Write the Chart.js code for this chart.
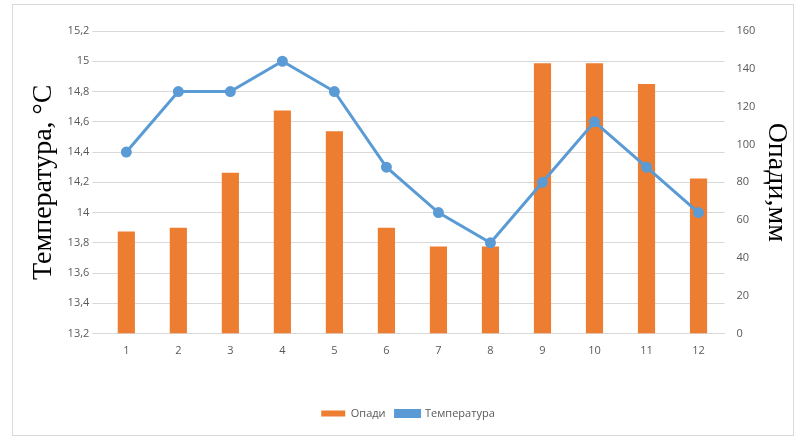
<!DOCTYPE html>
<html><head><meta charset="utf-8">
<script src="https://cdn.jsdelivr.net/npm/chart.js@4"></script>
<style>
body{margin:0;background:#fff}
#wrap{position:absolute;left:12px;top:4px;width:782px;height:432px;border:1px solid #d9d9d9;box-sizing:border-box}
</style></head><body>
<div id="wrap"><canvas id="c"></canvas></div>
<script>
const months = ['1','2','3','4','5','6','7','8','9','10','11','12'];
const precip = [54, 56, 85, 118, 107, 56, 46, 46, 143, 143, 132, 82];
const temp = [14.4, 14.8, 14.8, 15.0, 14.8, 14.3, 14.0, 13.8, 14.2, 14.6, 14.3, 14.0];

const tick = {color:'#595959', font:{family:'Open Sans', size:11}};
new Chart(document.getElementById('c'), {
  data: {labels: months, datasets: [
    {type:'line', label:'Температура', data:temp, yAxisID:'y', borderColor:'#5b9bd5', backgroundColor:'#5b9bd5',
     borderWidth:3, pointRadius:4, pointHoverRadius:4, order:0},
    {type:'bar', label:'Опади', data:precip, yAxisID:'y1', backgroundColor:'#ed7d31', barPercentage:0.33, categoryPercentage:1, order:1},
  ]},
  options: {
    responsive:true, maintainAspectRatio:false, animation:false,
    layout:{padding:{left:10, right:0, top:26, bottom:6}},
    plugins:{legend:{position:'bottom', reverse:true,
      labels:{color:'#595959', font:{family:'Open Sans', size:11}, boxWidth:24, boxHeight:6, padding:10}}},
    scales:{
      x:{grid:{display:false}, border:{color:'#d9d9d9'}, ticks:tick,
         title:{display:true, text:' ', font:{size:1}, padding:{top:18, bottom:18}}},
      y:{position:'left', min:13.2, max:15.2,
         ticks:{...tick, stepSize:0.2, callback:v=>(Math.round(v*10)/10).toString().replace('.',',')},
         grid:{color:'#d9d9d9'}, border:{display:false},
         title:{display:true, text:'Температура, °C', color:'#000', font:{family:'Liberation Serif', size:28}}},
      y1:{position:'right', min:0, max:160, ticks:{...tick, stepSize:20, padding:4}, grid:{display:false}, border:{display:false},
         title:{display:true, text:'Опади,мм', color:'#000', font:{family:'Liberation Serif', size:28}, padding:{top:0, bottom:0}}}
    }
  }
});
</script></body></html>
